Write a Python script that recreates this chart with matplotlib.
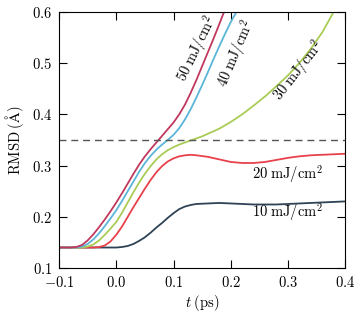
import matplotlib
matplotlib.use('Agg')
import matplotlib.pyplot as plt

plt.rcParams['font.family'] = 'serif'
plt.rcParams['font.serif'] = ['cmr10']
plt.rcParams['mathtext.fontset'] = 'cm'
plt.rcParams['axes.formatter.use_mathtext'] = True
plt.rcParams['font.size'] = 10.5

# fluence curves: time (ps) and RMSD (Angstrom)
t_10 = [-0.1, -0.05, 0.0, 0.01, 0.02, 0.03, 0.04, 0.05, 0.06, 0.07, 0.08, 0.09,
        0.10, 0.11, 0.12, 0.13, 0.14, 0.16, 0.18, 0.20, 0.22, 0.24, 0.26, 0.28,
        0.30, 0.32, 0.34, 0.36, 0.38, 0.40]
rmsd_10 = [0.14, 0.14, 0.14, 0.141, 0.143, 0.147, 0.153, 0.16, 0.169, 0.179, 0.188, 0.198,
           0.207, 0.215, 0.22, 0.223, 0.225, 0.226, 0.227, 0.226, 0.225, 0.224, 0.224, 0.224,
           0.225, 0.226, 0.227, 0.228, 0.229, 0.23]

t_20 = [-0.1, -0.04, -0.03, -0.02, -0.01, 0.0, 0.01, 0.02, 0.03, 0.04, 0.05, 0.06,
        0.07, 0.08, 0.09, 0.10, 0.11, 0.12, 0.13, 0.14, 0.16, 0.18, 0.20, 0.22,
        0.24, 0.26, 0.28, 0.30, 0.32, 0.34, 0.36, 0.38, 0.40]
rmsd_20 = [0.14, 0.14, 0.141, 0.144, 0.152, 0.165, 0.181, 0.2, 0.219, 0.237, 0.255, 0.272,
           0.287, 0.299, 0.308, 0.314, 0.318, 0.32, 0.321, 0.32, 0.317, 0.312, 0.307, 0.305,
           0.305, 0.307, 0.311, 0.315, 0.318, 0.32, 0.321, 0.322, 0.323]

t_30 = [-0.1, -0.06, -0.05, -0.04, -0.03, -0.02, -0.01, 0.0, 0.01, 0.02, 0.03, 0.04,
        0.05, 0.06, 0.07, 0.08, 0.09, 0.10, 0.11, 0.12, 0.13, 0.14, 0.15, 0.16,
        0.18, 0.20, 0.22, 0.24, 0.26, 0.28, 0.30, 0.32, 0.34, 0.36, 0.38]
rmsd_30 = [0.14, 0.14, 0.142, 0.146, 0.154, 0.165, 0.177, 0.19, 0.208, 0.228, 0.248, 0.267,
           0.284, 0.299, 0.312, 0.322, 0.33, 0.336, 0.341, 0.345, 0.349, 0.353, 0.357, 0.362,
           0.372, 0.385, 0.4, 0.417, 0.435, 0.455, 0.476, 0.5, 0.528, 0.56, 0.6]

t_40 = [-0.1, -0.07, -0.06, -0.05, -0.04, -0.03, -0.02, -0.01, 0.0, 0.01, 0.02, 0.03,
        0.04, 0.05, 0.06, 0.07, 0.08, 0.09, 0.10, 0.11, 0.12, 0.13, 0.14, 0.15,
        0.16, 0.17, 0.18, 0.19, 0.20, 0.21, 0.22]
rmsd_40 = [0.14, 0.14, 0.142, 0.147, 0.156, 0.168, 0.182, 0.197, 0.213, 0.231, 0.25, 0.269,
           0.288, 0.305, 0.319, 0.331, 0.341, 0.35, 0.36, 0.373, 0.39, 0.41, 0.433, 0.457,
           0.482, 0.508, 0.533, 0.557, 0.58, 0.6, 0.625]

t_50 = [-0.1, -0.08, -0.07, -0.06, -0.05, -0.04, -0.03, -0.02, -0.01, 0.0, 0.01, 0.02,
        0.03, 0.04, 0.05, 0.06, 0.07, 0.08, 0.09, 0.10, 0.11, 0.12, 0.13, 0.14,
        0.15, 0.16, 0.17, 0.18, 0.19, 0.20]
rmsd_50 = [0.14, 0.14, 0.141, 0.145, 0.154, 0.166, 0.18, 0.195, 0.211, 0.228, 0.246, 0.265,
           0.284, 0.302, 0.318, 0.332, 0.345, 0.358, 0.371, 0.384, 0.4, 0.419, 0.442, 0.467,
           0.494, 0.521, 0.548, 0.576, 0.605, 0.635]

threshold = 0.35

fig = plt.figure(figsize=(3.54, 3.12), dpi=100)
ax = fig.add_axes([0.167, 0.141, 0.808, 0.821])

ax.plot(t_10, rmsd_10, color='#2f4356', lw=1.3)
ax.plot(t_20, rmsd_20, color='#e8414b', lw=1.3)
ax.plot(t_30, rmsd_30, color='#a9cc56', lw=1.3)
ax.plot(t_40, rmsd_40, color='#5bb5d8', lw=1.3)
ax.plot(t_50, rmsd_50, color='#c1385e', lw=1.3)
ax.axhline(threshold, color='#555555', lw=1.0, ls=(0, (5, 3.5)))

ax.set_xlim(-0.1, 0.4)
ax.set_ylim(0.1, 0.6)
ax.set_xticks([-0.1, 0, 0.1, 0.2, 0.3, 0.4])
ax.set_yticks([0.1, 0.2, 0.3, 0.4, 0.5, 0.6])
ax.tick_params(direction='in', top=True, right=True, length=6, width=0.8, pad=5)
for s in ax.spines.values():
    s.set_linewidth(0.8)

ax.set_xlabel(r'$t\;(\mathrm{ps})$', labelpad=2)
ax.set_ylabel(r'$\mathrm{RMSD}\;(\mathrm{\AA})$', labelpad=4)

ax.text(0.142, 0.527, r'$50\;\mathrm{mJ/cm^2}$', rotation=64, ha='center', va='center')
ax.text(0.21, 0.518, r'$40\;\mathrm{mJ/cm^2}$', rotation=67, ha='center', va='center')
ax.text(0.32, 0.485, r'$30\;\mathrm{mJ/cm^2}$', rotation=52, ha='center', va='center')
ax.text(0.30, 0.282, r'$20\;\mathrm{mJ/cm^2}$', ha='center', va='center')
ax.text(0.30, 0.208, r'$10\;\mathrm{mJ/cm^2}$', ha='center', va='center')

fig.savefig('out.png', dpi=100)
